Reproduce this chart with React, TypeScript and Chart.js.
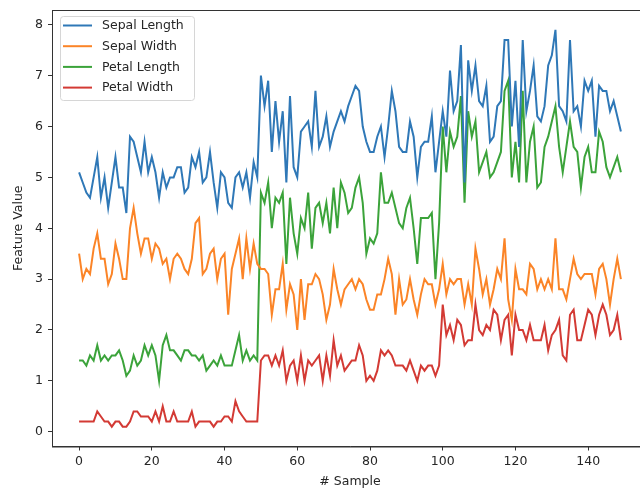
import React, { useEffect, useRef } from "react";
import { Chart, registerables } from "chart.js";

Chart.register(...registerables);

const sepalLength = [5.1,4.9,4.7,4.6,5.0,5.4,4.6,5.0,4.4,4.9,5.4,4.8,4.8,4.3,5.8,5.7,5.4,5.1,5.7,5.1,5.4,5.1,4.6,5.1,4.8,5.0,5.0,5.2,5.2,4.7,4.8,5.4,5.2,5.5,4.9,5.0,5.5,4.9,4.4,5.1,5.0,4.5,4.4,5.0,5.1,4.8,5.1,4.6,5.3,5.0,
7.0,6.4,6.9,5.5,6.5,5.7,6.3,4.9,6.6,5.2,5.0,5.9,6.0,6.1,5.6,6.7,5.6,5.8,6.2,5.6,5.9,6.1,6.3,6.1,6.4,6.6,6.8,6.7,6.0,5.7,5.5,5.5,5.8,6.0,5.4,6.0,6.7,6.3,5.6,5.5,5.5,6.1,5.8,5.0,5.6,5.7,5.7,6.2,5.1,5.7,
6.3,5.8,7.1,6.3,6.5,7.6,4.9,7.3,6.7,7.2,6.5,6.4,6.8,5.7,5.8,6.4,6.5,7.7,7.7,6.0,6.9,5.6,7.7,6.3,6.7,7.2,6.2,6.1,6.4,7.2,7.4,7.9,6.4,6.3,6.1,7.7,6.3,6.4,6.0,6.9,6.7,6.9,5.8,6.8,6.7,6.7,6.3,6.5,6.2,5.9];
const sepalWidth = [3.5,3.0,3.2,3.1,3.6,3.9,3.4,3.4,2.9,3.1,3.7,3.4,3.0,3.0,4.0,4.4,3.9,3.5,3.8,3.8,3.4,3.7,3.6,3.3,3.4,3.0,3.4,3.5,3.4,3.2,3.1,3.4,4.1,4.2,3.1,3.2,3.5,3.6,3.0,3.4,3.5,2.3,3.2,3.5,3.8,3.0,3.8,3.2,3.7,3.3,
3.2,3.2,3.1,2.3,2.8,2.8,3.3,2.4,2.9,2.7,2.0,3.0,2.2,2.9,2.9,3.1,3.0,2.7,2.2,2.5,3.2,2.8,2.5,2.8,2.9,3.0,2.8,3.0,2.9,2.6,2.4,2.4,2.7,2.7,3.0,3.4,3.1,2.3,3.0,2.5,2.6,3.0,2.6,2.3,2.7,3.0,2.9,2.9,2.5,2.8,
3.3,2.7,3.0,2.9,3.0,3.0,2.5,2.9,2.5,3.6,3.2,2.7,3.0,2.5,2.8,3.2,3.0,3.8,2.6,2.2,3.2,2.8,2.8,2.7,3.3,3.2,2.8,3.0,2.8,3.0,2.8,3.8,2.8,2.8,2.6,3.0,3.4,3.1,3.0,3.1,3.1,3.1,2.7,3.2,3.3,3.0,2.5,3.0,3.4,3.0];
const petalLength = [1.4,1.4,1.3,1.5,1.4,1.7,1.4,1.5,1.4,1.5,1.5,1.6,1.4,1.1,1.2,1.5,1.3,1.4,1.7,1.5,1.7,1.5,1.0,1.7,1.9,1.6,1.6,1.5,1.4,1.6,1.6,1.5,1.5,1.4,1.5,1.2,1.3,1.4,1.3,1.5,1.3,1.3,1.3,1.6,1.9,1.4,1.6,1.4,1.5,1.4,
4.7,4.5,4.9,4.0,4.6,4.5,4.7,3.3,4.6,3.9,3.5,4.2,4.0,4.7,3.6,4.4,4.5,4.1,4.5,3.9,4.8,4.0,4.9,4.7,4.3,4.4,4.8,5.0,4.5,3.5,3.8,3.7,3.9,5.1,4.5,4.5,4.7,4.4,4.1,4.0,4.4,4.6,4.0,3.3,4.2,4.2,4.2,4.3,3.0,4.1,
6.0,5.1,5.9,5.6,5.8,6.6,4.5,6.3,5.8,6.1,5.1,5.3,5.5,5.0,5.1,5.3,5.5,6.7,6.9,5.0,5.7,4.9,6.7,4.9,5.7,6.0,4.8,4.9,5.6,5.8,6.1,6.4,5.6,5.1,5.6,6.1,5.6,5.5,4.8,5.4,5.6,5.1,5.1,5.9,5.7,5.2,5.0,5.2,5.4,5.1];
const petalWidth = [0.2,0.2,0.2,0.2,0.2,0.4,0.3,0.2,0.2,0.1,0.2,0.2,0.1,0.1,0.2,0.4,0.4,0.3,0.3,0.3,0.2,0.4,0.2,0.5,0.2,0.2,0.4,0.2,0.2,0.2,0.2,0.4,0.1,0.2,0.2,0.2,0.2,0.1,0.2,0.2,0.3,0.3,0.2,0.6,0.4,0.3,0.2,0.2,0.2,0.2,
1.4,1.5,1.5,1.3,1.5,1.3,1.6,1.0,1.3,1.4,1.0,1.5,1.0,1.4,1.3,1.4,1.5,1.0,1.5,1.1,1.8,1.3,1.5,1.2,1.3,1.4,1.4,1.7,1.5,1.0,1.1,1.0,1.2,1.6,1.5,1.6,1.5,1.3,1.3,1.3,1.2,1.4,1.2,1.0,1.3,1.2,1.3,1.3,1.1,1.3,
2.5,1.9,2.1,1.8,2.2,2.1,1.7,1.8,1.8,2.5,2.0,1.9,2.1,2.0,2.4,2.3,1.8,2.2,2.3,1.5,2.3,2.0,2.0,1.8,2.1,1.8,1.8,1.8,2.1,1.6,1.9,2.0,2.2,1.5,1.4,2.3,2.4,1.8,1.8,2.1,2.4,2.3,1.9,2.3,2.5,2.3,1.9,2.0,2.3,1.8];

const seriesNames = ["Sepal Length", "Sepal Width", "Petal Length", "Petal Width"];
const seriesColors = ["#2f78b7", "#fb8427", "#3ba33a", "#d33a34"];
const xTicks = [0, 20, 40, 60, 80, 100, 120, 140];
const yTicks = [0, 1, 2, 3, 4, 5, 6, 7, 8];

const FONT = "'DejaVu Sans', sans-serif";
const TEXT = "#262626";

const framePlugin = {
  id: "frame",
  afterDraw(chart: any) {
    const { ctx, chartArea: a } = chart;
    ctx.save();
    ctx.strokeStyle = "#333";
    ctx.lineWidth = 1;
    ctx.strokeRect(a.left + 0.5, a.top + 0.5, a.right - a.left, a.bottom - a.top);
    // legend
    const bx = 60.5, by = 16.5, bw = 134, bh = 84, r = 3;
    ctx.beginPath();
    ctx.moveTo(bx + r, by);
    ctx.arcTo(bx + bw, by, bx + bw, by + bh, r);
    ctx.arcTo(bx + bw, by + bh, bx, by + bh, r);
    ctx.arcTo(bx, by + bh, bx, by, r);
    ctx.arcTo(bx, by, bx + bw, by, r);
    ctx.closePath();
    ctx.fillStyle = "rgba(255,255,255,0.8)";
    ctx.fill();
    ctx.strokeStyle = "#d6d6d6";
    ctx.stroke();
    ctx.font = `12.5px ${FONT}`;
    ctx.textBaseline = "middle";
    ctx.textAlign = "left";
    chart.data.datasets.forEach((ds: any, i: number) => {
      const y = 25.5 + i * 20.7;
      ctx.strokeStyle = ds.borderColor;
      ctx.lineWidth = 2;
      ctx.beginPath();
      ctx.moveTo(63, y);
      ctx.lineTo(92, y);
      ctx.stroke();
      ctx.fillStyle = TEXT;
      ctx.fillText(ds.label, 102, y + 0.5);
    });
    ctx.restore();
  },
};

export default function App() {
  const ref = useRef<HTMLCanvasElement>(null);
  useEffect(() => {
    document.body.style.margin = "0";
    document.body.style.overflow = "hidden";
    const all = [sepalLength, sepalWidth, petalLength, petalWidth];
    const chart = new Chart(ref.current!, {
      type: "line",
      data: {
        datasets: all.map((vals, i) => ({
          label: seriesNames[i],
          data: vals.map((v, j) => ({ x: j, y: v })),
          borderColor: seriesColors[i],
          backgroundColor: seriesColors[i],
          borderWidth: 2,
          pointRadius: 0,
          tension: 0,
        })),
      },
      options: {
        responsive: false,
        animation: false,
        layout: { padding: { top: 10, right: 12, left: 0, bottom: 0 } },
        plugins: { legend: { display: false }, tooltip: { enabled: false } },
        scales: {
          x: {
            type: "linear",
            min: -7.45,
            max: 156.45,
            afterBuildTicks: (s: any) => { s.ticks = xTicks.map((v) => ({ value: v })); },
            afterFit: (s: any) => { s.height = 43.5; s.paddingLeft = 0; s.paddingRight = 0; },
            grid: { drawOnChartArea: false, drawTicks: true, tickLength: 4, tickColor: "#333" },
            border: { display: true, color: "#333" },
            ticks: { font: { family: FONT, size: 12.5 }, color: TEXT, padding: 4, maxRotation: 0 },
            title: { display: true, text: "# Sample", font: { family: FONT, size: 12.5 }, color: TEXT, padding: { top: 0, bottom: 1 } },
          },
          y: {
            type: "linear",
            min: -0.29,
            max: 8.29,
            afterBuildTicks: (s: any) => { s.ticks = yTicks.map((v) => ({ value: v })); },
            afterFit: (s: any) => { s.width = 52; s.paddingTop = 0; s.paddingBottom = 0; },
            grid: { drawOnChartArea: false, drawTicks: true, tickLength: 4, tickColor: "#333" },
            border: { display: true, color: "#333" },
            ticks: { font: { family: FONT, size: 12.5 }, color: TEXT, padding: 5 },
            title: { display: true, text: "Feature Value", font: { family: FONT, size: 12.5 }, color: TEXT, padding: { top: 11, bottom: 0 } },
          },
        },
      },
      plugins: [framePlugin],
    } as any);
    return () => chart.destroy();
  }, []);
  return (
    <div style={{ position: "fixed", left: 0, top: 0, width: 640, height: 490, overflow: "hidden", background: "#fff" }}>
      <canvas ref={ref} width={660} height={490} style={{ width: 660, height: 490, display: "block" }} />
    </div>
  );
}
